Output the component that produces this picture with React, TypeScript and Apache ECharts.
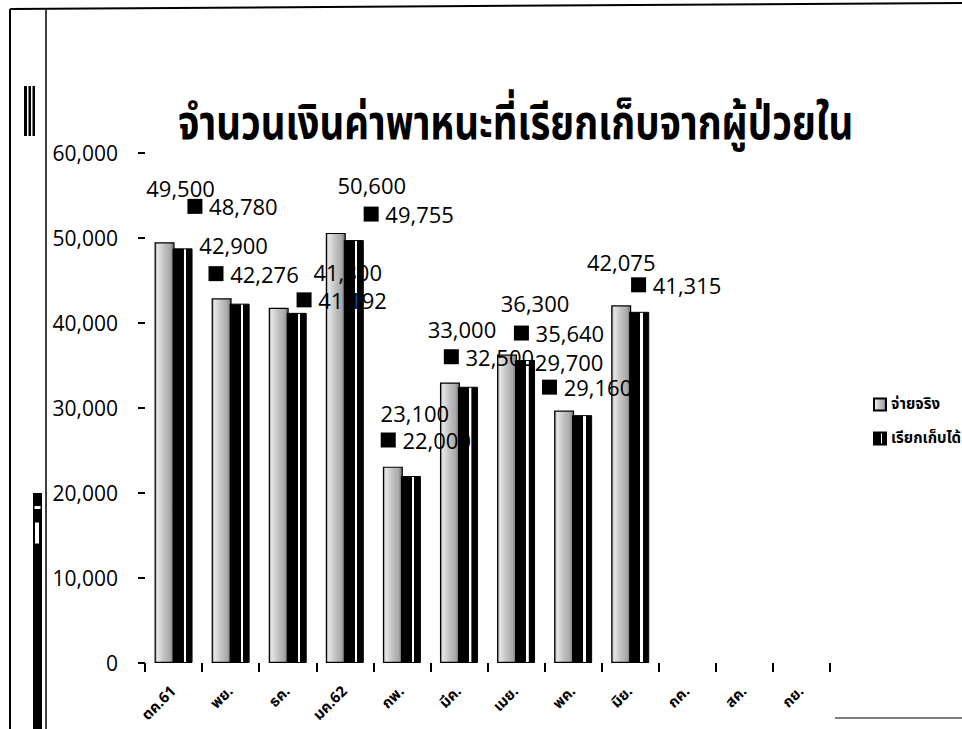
import React, { useEffect, useRef } from "react";
import * as echarts from "echarts";

const titleText = "จำนวนเงินค่าพาหนะที่เรียกเก็บจากผู้ป่วยใน";
const categories = ["ตค.61", "พย.", "ธค.", "มค.62", "กพ.", "มีค.", "เมย.", "พค.", "มิย.", "กค.", "สค.", "กย."];
const seriesNames = ["จ่ายจริง", "เรียกเก็บได้"];
const actualPaid = [49500, 42900, 41800, 50600, 23100, 33000, 36300, 29700, 42075, null, null, null];
const collected = [48780, 42276, 41192, 49755, 22000, 32500, 35640, 29160, 41315, null, null, null];
const yMin = 0;
const yMax = 60000;
const yStep = 10000;

// label placement nudges (pixels) mimicking the scanned Excel chart
const actualLabelShift = [[16, -43], [12, -42], [69, -25], [36, -37], [22, -43], [12, -43], [28, -40], [5, -38], [0, -32]];
const collectedLabelShift = [[50, -31], [14, -19], [45, -2], [55, -15], [15, -25], [21, -19], [34, -16], [5, -17], [37, -16]];

const fmt = (v: number) => v.toLocaleString("en-US");
const NUM_FONT = "'Open Sans', Lato, sans-serif";
const THAI_FONT = "Tahoma, 'Noto Sans Thai', 'Garuda', 'Loma', 'Norasi', sans-serif";

export default function App() {
  const ref = useRef<HTMLDivElement>(null);
  useEffect(() => {
    if (!ref.current) return;
    const chart = echarts.init(ref.current, undefined, { renderer: "svg" });
    const grayFill = new echarts.graphic.LinearGradient(0, 0, 1, 0, [
      { offset: 0, color: "#8a8a8a" },
      { offset: 0.12, color: "#e6e6e6" },
      { offset: 0.45, color: "#c4c4c4" },
      { offset: 0.8, color: "#a9a9a9" },
      { offset: 1, color: "#6e6e6e" },
    ]);
    const blackFill = new echarts.graphic.LinearGradient(0, 0, 1, 0, [
      { offset: 0, color: "#000" },
      { offset: 0.55, color: "#000" },
      { offset: 0.56, color: "#fff" },
      { offset: 0.68, color: "#fff" },
      { offset: 0.69, color: "#000" },
      { offset: 1, color: "#000" },
    ]);
    chart.setOption({
      animation: false,
      backgroundColor: "#fff",
      legend: {
        orient: "vertical",
        left: 868,
        top: 392,
        itemWidth: 12,
        itemHeight: 12,
        itemGap: 19,
        icon: "rect",
        data: seriesNames,
        textStyle: { fontFamily: THAI_FONT, fontSize: 15, fontWeight: "bold", color: "#000" },
      },
      grid: { left: 145, right: 132, top: 153, bottom: 66, containLabel: false },
      xAxis: {
        type: "category",
        data: categories,
        axisLine: { show: false },
        axisTick: { show: true, length: 9, lineStyle: { color: "#000", width: 2 }, alignWithLabel: false },
        axisLabel: {
          rotate: 45,
          interval: 0,
          margin: 26,
          fontFamily: THAI_FONT,
          fontSize: 15,
          fontWeight: "bold",
          color: "#000",
        },
      },
      yAxis: {
        type: "value",
        min: yMin,
        max: yMax,
        interval: yStep,
        axisLine: { show: false },
        axisTick: { show: true, length: 7, lineStyle: { color: "#000", width: 2 } },
        splitLine: { show: false },
        axisLabel: {
          formatter: (v: number) => fmt(v),
          fontFamily: NUM_FONT,
          fontSize: 21,
          color: "#000",
          margin: 27,
        },
      },
      series: [
        {
          name: seriesNames[0],
          type: "bar",
          barWidth: 20,
          barGap: "-10%",
          itemStyle: { color: grayFill, borderColor: "#000", borderWidth: 1.2 },
          label: {
            show: true,
            position: "top",
            distance: 0,
            formatter: (p: any) => fmt(p.value),
            fontFamily: NUM_FONT,
            fontSize: 22,
            color: "#000",
          },
          data: actualPaid.map((v, i) =>
            v == null ? null : { value: v, label: { offset: actualLabelShift[i] } }
          ),
        },
        {
          name: seriesNames[1],
          type: "bar",
          barWidth: 20,
          itemStyle: { color: blackFill, borderColor: "#000", borderWidth: 1 },
          label: {
            show: true,
            position: "top",
            distance: 0,
            formatter: (p: any) => "{sq|}  {v|" + fmt(p.value) + "}",
            rich: {
              sq: { width: 15, height: 15, backgroundColor: "#000" },
              v: { fontFamily: NUM_FONT, fontSize: 22, color: "#000" },
            },
          },
          data: collected.map((v, i) =>
            v == null ? null : { value: v, label: { offset: collectedLabelShift[i] } }
          ),
        },
      ],
      color: ["#b5b5b5", "#000"],
      graphic: [
        {
          type: "text",
          x: 178,
          y: 125,
          scaleX: 0.8,
          style: {
            text: titleText,
            font: "bold 48px " + THAI_FONT,
            fill: "#000",
            textVerticalAlign: "middle",
            verticalAlign: "middle",
          },
        },
        { type: "line", shape: { x1: 10, y1: 9, x2: 962, y2: 3 }, style: { stroke: "#000", lineWidth: 2 } },
        { type: "line", shape: { x1: 10, y1: 9, x2: 10, y2: 729 }, style: { stroke: "#000", lineWidth: 2 } },
        { type: "line", shape: { x1: 46, y1: 10, x2: 46, y2: 729 }, style: { stroke: "#000", lineWidth: 1.5 } },
        { type: "rect", shape: { x: 24, y: 86, width: 3, height: 50 }, style: { fill: "#000" } },
        { type: "rect", shape: { x: 28.5, y: 86, width: 2.5, height: 50 }, style: { fill: "#000" } },
        { type: "rect", shape: { x: 32.5, y: 86, width: 2.5, height: 50 }, style: { fill: "#000" } },
        { type: "rect", shape: { x: 33, y: 493, width: 9, height: 236 }, style: { fill: "#000" } },
        { type: "rect", shape: { x: 34.5, y: 522, width: 5, height: 22 }, style: { fill: "#fff", stroke: "#000", lineWidth: 1 } },
        { type: "rect", shape: { x: 34.5, y: 506, width: 6, height: 3 }, style: { fill: "#fff" } },
        { type: "line", shape: { x1: 835, y1: 718, x2: 962, y2: 718 }, style: { stroke: "#555", lineWidth: 1.5 } },
      ],
    });
    return () => chart.dispose();
  }, []);
  return (
    <div
      ref={ref}
      style={{ position: "fixed", left: 0, top: 0, width: 962, height: 729, background: "#fff" }}
    />
  );
}
